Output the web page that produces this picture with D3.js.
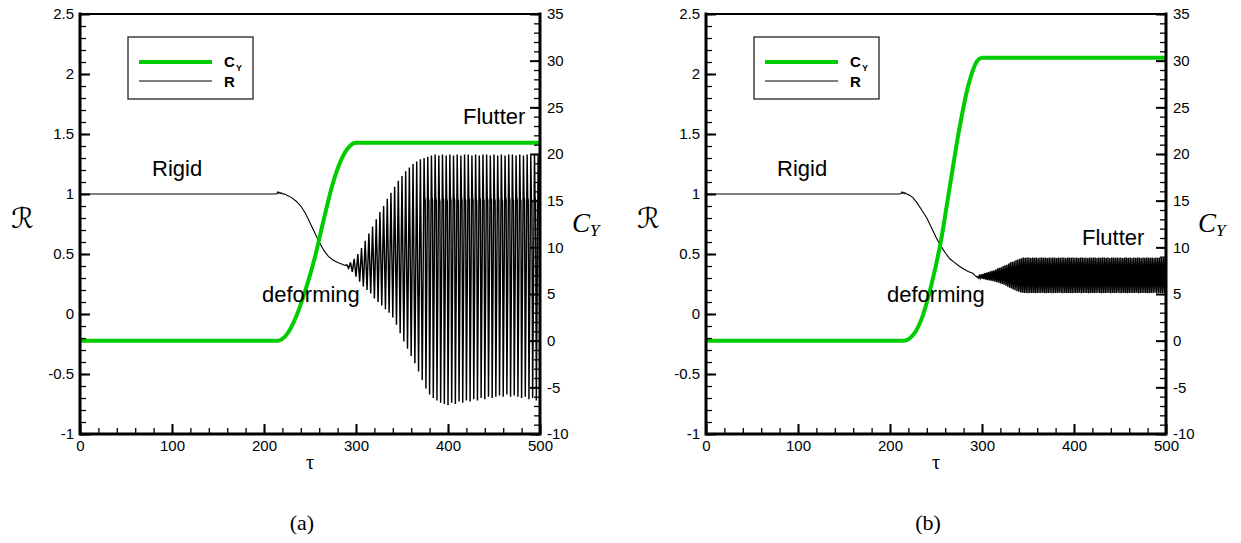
<!DOCTYPE html>
<html>
<head>
<meta charset="utf-8">
<script src="https://cdn.jsdelivr.net/npm/d3@7"></script>
<style>
  body { margin: 0; background: #fff; }
  svg { display: block; font-family: "Liberation Sans", Arial, Helvetica, sans-serif; }
</style>
</head>
<body>
<svg id="chart" width="1241" height="543"></svg>
<script>
// ---------- axes ----------
const tauTicks = [0, 100, 200, 300, 400, 500];
const rTicks = [-1, -0.5, 0, 0.5, 1, 1.5, 2, 2.5];
const cyTicks = [-10, -5, 0, 5, 10, 15, 20, 25, 30, 35];

// ---------- lift coefficient C_Y (green) ----------
const cyTau  = [0, 200, 215, 225, 235, 245, 255, 265, 275, 285, 295, 300, 500];
const cyValA = [0, 0, 0, 0.7, 2.6, 5.4, 8.8, 13.0, 16.9, 19.6, 21.0, 21.2, 21.2];
const cyValB = [0, 0, 0, 0.6, 2.5, 6.0, 10.5, 16.5, 22.5, 27.3, 30.0, 30.3, 30.3];

// ---------- R before flutter onset ----------
const rTauA = [0, 200, 212, 214, 215, 216, 217, 218, 219, 220, 222, 225, 230, 235, 240, 245, 250, 255, 260, 265, 270, 275, 280, 285, 288];
const rValA = [1, 1, 1, 1.003, 1.018, 1.006, 1.014, 1.004, 1.01, 1.0, 1.002, 0.99, 0.97, 0.94, 0.90, 0.84, 0.76, 0.68, 0.60, 0.53, 0.48, 0.45, 0.43, 0.415, 0.405];

const rTauB = [0, 200, 210, 212, 213, 214, 215, 216, 217, 218, 220, 225, 230, 235, 240, 245, 250, 255, 260, 265, 270, 275, 280, 285, 290, 293];
const rValB = [1, 1, 1, 1.004, 1.016, 1.005, 1.013, 1.003, 1.009, 1.0, 0.995, 0.97, 0.92, 0.86, 0.80, 0.72, 0.64, 0.57, 0.51, 0.46, 0.43, 0.40, 0.375, 0.355, 0.34, 0.315];

// ---------- R during flutter: successive maxima / minima ----------
// panel (a): first maximum at tau = 290, period 4
const flutterStartA = 290, flutterPeriodA = 4;
const peaksA = [
  0.41, 0.43, 0.46, 0.50, 0.55, 0.61, 0.67, 0.73, 0.79, 0.85,
  0.90, 0.96, 1.01, 1.06, 1.11, 1.15, 1.19, 1.22, 1.25, 1.27,
  1.29, 1.30, 1.31, 1.32, 1.33, 1.32, 1.33, 1.32, 1.33, 1.32,
  1.33, 1.32, 1.33, 1.33, 1.32, 1.33, 1.32, 1.33, 1.33, 1.32,
  1.33, 1.32, 1.33, 1.32, 1.33, 1.33, 1.32, 1.33, 1.32, 1.33,
  1.32, 1.33, 1.32
];
const troughsA = [
  0.38, 0.35, 0.31, 0.27, 0.23, 0.20, 0.17, 0.13, 0.10, 0.07,
  0.04, 0.01, -0.03, -0.09, -0.16, -0.23, -0.29, -0.35, -0.41, -0.48,
  -0.55, -0.62, -0.67, -0.70, -0.72, -0.74, -0.75, -0.76, -0.74, -0.75,
  -0.73, -0.74, -0.72, -0.73, -0.71, -0.72, -0.70, -0.71, -0.69, -0.70,
  -0.69, -0.68, -0.69, -0.67, -0.69, -0.68, -0.69, -0.70, -0.69, -0.71,
  -0.70, -0.72, -0.73
];
// brief hesitation on the falling stroke of the saturated cycles (from the 22nd cycle on)
const shoulderFromA = 21;
const shouldersA = [
  0.96, 0.95, 0.96, 0.96, 0.95, 0.96, 0.95, 0.96, 0.96, 0.95,
  0.96, 0.95, 0.96, 0.96, 0.95, 0.96, 0.95, 0.96, 0.96, 0.95,
  0.96, 0.95, 0.96, 0.96, 0.95, 0.96, 0.95, 0.96, 0.96, 0.95,
  0.96, 0.95
];

// panel (b): first maximum at tau = 295, period 2
const flutterStartB = 295, flutterPeriodB = 2;
const peaksB = [
  0.31, 0.32, 0.33, 0.335, 0.34, 0.345, 0.35, 0.355, 0.36, 0.365,
  0.37, 0.38, 0.385, 0.39, 0.40, 0.405, 0.41, 0.42, 0.43, 0.435,
  0.44, 0.45, 0.455, 0.46, 0.465, 0.47, 0.468, 0.47, 0.47, 0.466,
  0.47, 0.469, 0.47, 0.467, 0.47, 0.47, 0.468, 0.47, 0.466, 0.47,
  0.469, 0.47, 0.47, 0.467, 0.47, 0.468, 0.47, 0.47, 0.466, 0.47,
  0.47, 0.468, 0.47, 0.469, 0.47, 0.467, 0.47, 0.47, 0.468, 0.47,
  0.466, 0.47, 0.469, 0.47, 0.47, 0.467, 0.47, 0.468, 0.47, 0.47,
  0.469, 0.47, 0.466, 0.47, 0.47, 0.468, 0.47, 0.469, 0.47, 0.467,
  0.47, 0.47, 0.468, 0.47, 0.466, 0.47, 0.469, 0.47, 0.47, 0.467,
  0.47, 0.468, 0.47, 0.47, 0.469, 0.47, 0.466, 0.47, 0.468, 0.47,
  0.47, 0.467, 0.47
];
const troughsB = [
  0.30, 0.298, 0.295, 0.29, 0.287, 0.283, 0.28, 0.277, 0.273, 0.27,
  0.265, 0.26, 0.255, 0.25, 0.243, 0.236, 0.228, 0.22, 0.212, 0.205,
  0.198, 0.19, 0.185, 0.18, 0.177, 0.175, 0.176, 0.174, 0.175, 0.176,
  0.175, 0.174, 0.176, 0.175, 0.175, 0.177, 0.174, 0.175, 0.176, 0.175,
  0.174, 0.175, 0.176, 0.175, 0.177, 0.175, 0.174, 0.175, 0.176, 0.175,
  0.175, 0.174, 0.176, 0.175, 0.175, 0.177, 0.174, 0.175, 0.176, 0.175,
  0.174, 0.175, 0.176, 0.175, 0.175, 0.177, 0.175, 0.174, 0.175, 0.176,
  0.175, 0.175, 0.174, 0.176, 0.175, 0.175, 0.177, 0.174, 0.175, 0.176,
  0.175, 0.174, 0.175, 0.176, 0.175, 0.175, 0.177, 0.174, 0.175, 0.176,
  0.175, 0.175, 0.174, 0.176, 0.175, 0.175, 0.177, 0.174, 0.175, 0.176,
  0.175, 0.175, 0.174
];

// ---------- layout ----------
const svg = d3.select("#chart");
const plotTop = 14, plotBottom = 434, plotWidth = 460;
const GREEN = "#00cc00";

const panels = [
  {
    left: 80, tag: "(a)",
    cyVal: cyValA, rTau: rTauA, rVal: rValA,
    peaks: peaksA, troughs: troughsA, start: flutterStartA, period: flutterPeriodA,
    shoulders: shouldersA, shoulderFrom: shoulderFromA,
    notes: [
      { text: "Rigid", x: 152, y: 176 },
      { text: "deforming", x: 262, y: 302 },
      { text: "Flutter", x: 463, y: 124 }
    ]
  },
  {
    left: 706, tag: "(b)",
    cyVal: cyValB, rTau: rTauB, rVal: rValB,
    peaks: peaksB, troughs: troughsB, start: flutterStartB, period: flutterPeriodB,
    shoulders: [], shoulderFrom: 0,
    notes: [
      { text: "Rigid", x: 777, y: 176 },
      { text: "deforming", x: 887, y: 302 },
      { text: "Flutter", x: 1082, y: 245 }
    ]
  }
];

function tickRange(a, b, step) {
  return d3.range(Math.round((b - a) / step) + 1).map(i => +(a + i * step).toFixed(6));
}

panels.forEach(p => {
  const L = p.left, R = p.left + plotWidth;
  const x = d3.scaleLinear().domain([0, 500]).range([L, R]);
  const yL = d3.scaleLinear().domain([-1, 2.5]).range([plotBottom, plotTop]);
  const yR = d3.scaleLinear().domain([-10, 35]).range([plotBottom, plotTop]);
  const g = svg.append("g");

  // --- series ---
  const cyLine = d3.line().x((d, i) => x(cyTau[i])).y(d => yR(d)).curve(d3.curveMonotoneX);

  const rPts = p.rTau.map((t, i) => [t, p.rVal[i]]);
  const lastPre = rPts[rPts.length - 1];
  const flutterPts = [lastPre];
  p.peaks.forEach((v, i) => {
    const t = p.start + i * p.period;
    flutterPts.push([t, v]);
    const k = i - p.shoulderFrom;
    if (p.shoulders.length && k >= 0 && k < p.shoulders.length) {
      flutterPts.push([t + p.period * 0.15, p.shoulders[k] + 0.012]);
      flutterPts.push([t + p.period * 0.3, p.shoulders[k] - 0.012]);
    }
    if (i < p.troughs.length) flutterPts.push([t + p.period / 2, p.troughs[i]]);
  });
  const rLine = d3.line().x(d => x(d[0])).y(d => yL(d[1]));

  g.append("path").attr("d", rLine(rPts))
    .attr("fill", "none").attr("stroke", "#000").attr("stroke-width", 1.1);
  g.append("path").attr("d", rLine(flutterPts))
    .attr("fill", "none").attr("stroke", "#000").attr("stroke-width", 1.45);
  g.append("path").attr("d", cyLine(p.cyVal))
    .attr("fill", "none").attr("stroke", GREEN).attr("stroke-width", 4);

  // --- axes (inward ticks) ---
  const styleAxis = (sel, w) => {
    sel.select(".domain").remove();
    sel.selectAll(".tick line").attr("stroke", "#000").attr("stroke-width", w);
    sel.selectAll(".tick text").attr("fill", "#000")
      .style("font-family", '"Liberation Sans", Arial, sans-serif').style("font-size", "15px");
  };

  g.append("g").attr("transform", `translate(0,${plotBottom})`)
    .call(d3.axisBottom(x).tickValues(tickRange(0, 500, 20)).tickSize(-6).tickFormat(""))
    .call(s => styleAxis(s, 1.3));
  g.append("g").attr("transform", `translate(0,${plotBottom})`)
    .call(d3.axisBottom(x).tickValues(tauTicks).tickSize(-10).tickPadding(6).tickFormat(d => String(d)))
    .call(s => styleAxis(s, 2));

  g.append("g").attr("transform", `translate(${L},0)`)
    .call(d3.axisLeft(yL).tickValues(tickRange(-1, 2.5, 0.1)).tickSize(-6).tickFormat(""))
    .call(s => styleAxis(s, 1.3));
  g.append("g").attr("transform", `translate(${L},0)`)
    .call(d3.axisLeft(yL).tickValues(rTicks).tickSize(-10).tickPadding(6).tickFormat(d => String(d)))
    .call(s => styleAxis(s, 2));

  g.append("g").attr("transform", `translate(${R},0)`)
    .call(d3.axisRight(yR).tickValues(tickRange(-10, 35, 1)).tickSize(-6).tickFormat(""))
    .call(s => styleAxis(s, 1.3));
  g.append("g").attr("transform", `translate(${R},0)`)
    .call(d3.axisRight(yR).tickValues(cyTicks).tickSize(-10).tickPadding(7).tickFormat(d => String(d)))
    .call(s => styleAxis(s, 2));

  // --- frame ---
  g.append("line").attr("x1", L).attr("x2", R).attr("y1", plotTop).attr("y2", plotTop)
    .attr("stroke", "#000").attr("stroke-width", 2);
  g.append("path")
    .attr("d", `M${L},${plotTop}V${plotBottom}H${R}V${plotTop}`)
    .attr("fill", "none").attr("stroke", "#000").attr("stroke-width", 3)
    .attr("stroke-linecap", "square");

  // --- legend ---
  const lx = L + 48, ly = 37;
  g.append("rect").attr("x", lx).attr("y", ly).attr("width", 125).attr("height", 62)
    .attr("fill", "#fff").attr("stroke", "#333").attr("stroke-width", 1.4);
  g.append("line").attr("x1", lx + 11).attr("x2", lx + 84).attr("y1", ly + 25).attr("y2", ly + 25)
    .attr("stroke", GREEN).attr("stroke-width", 4);
  g.append("line").attr("x1", lx + 11).attr("x2", lx + 84).attr("y1", ly + 44).attr("y2", ly + 44)
    .attr("stroke", "#000").attr("stroke-width", 1);
  g.append("text").attr("x", lx + 96).attr("y", ly + 30)
    .style("font-size", "15px").style("font-weight", "bold").text("C");
  g.append("text").attr("x", lx + 108).attr("y", ly + 34)
    .style("font-size", "9px").style("font-weight", "bold").text("Y");
  g.append("text").attr("x", lx + 96).attr("y", ly + 50)
    .style("font-size", "15px").style("font-weight", "bold").text("R");

  // --- annotations ---
  p.notes.forEach(n => {
    g.append("text").attr("x", n.x).attr("y", n.y)
      .style("font-size", "22px").attr("fill", "#000").text(n.text);
  });

  // --- axis titles ---
  g.append("text").attr("x", L - 69).attr("y", 228)
    .style("font-family", '"DejaVu Serif", "DejaVu Sans", serif')
    .style("font-size", "28px").text("\u211B");

  const cy = g.append("text").attr("x", R + 32).attr("y", 232)
    .style("font-family", '"Liberation Serif", "Times New Roman", serif').style("font-style", "italic")
    .style("font-size", "27px");
  cy.append("tspan").text("C");
  cy.append("tspan").attr("dy", 4).style("font-size", "17px").text("Y");

  g.append("text").attr("x", (L + R) / 2).attr("y", 469).attr("text-anchor", "middle")
    .style("font-family", '"Liberation Serif", "DejaVu Serif", serif')
    .style("font-size", "20px").text("\u03C4");

  g.append("text").attr("x", (L + R) / 2 - 8).attr("y", 530).attr("text-anchor", "middle")
    .style("font-family", '"Liberation Serif", "DejaVu Serif", serif')
    .style("font-size", "22px").text(p.tag);
});
</script>
</body>
</html>
